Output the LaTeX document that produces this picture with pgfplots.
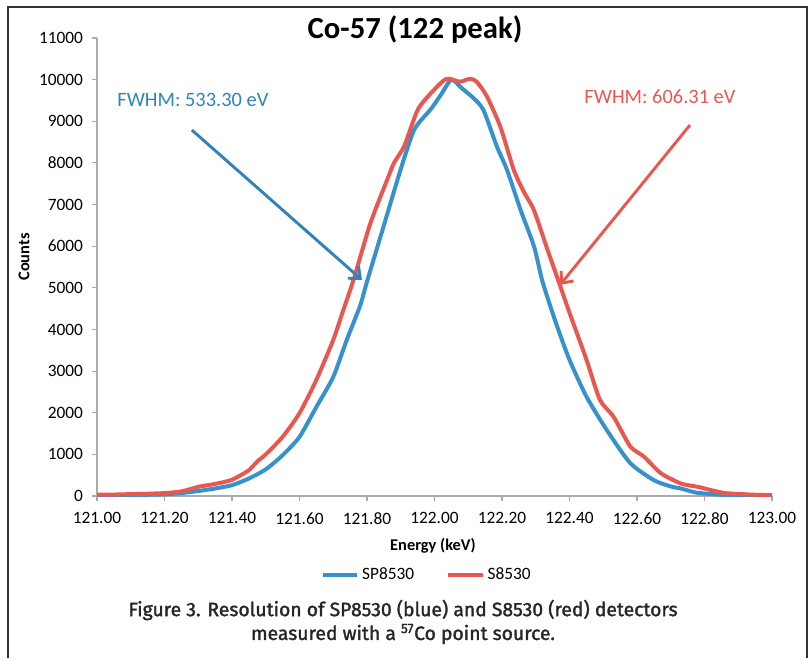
\documentclass[border=0pt]{standalone}
\usepackage{pgfplots}
\pgfplotsset{compat=1.18}
\usepackage{fontspec}
\setmainfont{Carlito}
\newfontfamily\capfont{Fira Sans}[FakeBold=1.6]
\usetikzlibrary{arrows.meta}
\definecolor{serblue}{RGB}{55,145,205}
\definecolor{serred}{RGB}{230,88,80}
\definecolor{axisgray}{RGB}{170,170,170}
\definecolor{framegray}{RGB}{50,50,50}

% SP8530 (blue)
\pgfplotstableread{
x y
121.00 10
121.05 15
121.10 20
121.15 30
121.20 40
121.25 70
121.30 120
121.35 180
121.40 260
121.45 420
121.50 640
121.55 980
121.60 1420
121.65 2140
121.70 2860
121.74 3750
121.78 4580
121.80 5150
121.85 6500
121.90 7850
121.94 8800
121.99 9300
122.02 9650
122.05 10000
122.08 9800
122.115 9560
122.145 9270
122.185 8390
122.215 7830
122.255 6870
122.295 5990
122.32 5150
122.36 4150
122.40 3270
122.45 2390
122.51 1590
122.58 790
122.65 380
122.70 230
122.73 180
122.77 90
122.80 60
122.85 30
122.90 15
122.95 8
123.00 5
}\blue

% S8530 (red)
\pgfplotstableread{
x y
121.00 30
121.05 35
121.10 45
121.15 55
121.20 70
121.25 110
121.30 220
121.35 290
121.40 390
121.45 620
121.475 830
121.50 1000
121.55 1420
121.60 1990
121.65 2790
121.70 3750
121.73 4470
121.76 5190
121.81 6550
121.86 7600
121.88 8000
121.91 8400
121.95 9270
121.99 9680
122.035 10020
122.075 9950
122.105 10020
122.125 9950
122.155 9600
122.195 8870
122.235 7830
122.265 7300
122.29 6950
122.305 6630
122.335 5910
122.37 5100
122.40 4400
122.45 3280
122.49 2310
122.53 1910
122.58 1190
122.62 950
122.67 550
122.73 300
122.78 220
122.82 140
122.86 70
122.90 50
122.95 30
123.00 20
}\red

\begin{document}
\begin{tikzpicture}
\begin{scope}[x=0.75pt,y=0.75pt]
\path[use as bounding box] (0,0) rectangle (812,658);
\draw[framegray, line width=1.5pt] (8,0) -- (8,651) -- (807,651) -- (807,0);
\end{scope}

\begin{axis}[
  at={(72.75pt,121.5pt)}, anchor=south west,
  scale only axis, width=506.25pt, height=343.5pt,
  xmin=121, xmax=123, ymin=0, ymax=11000,
  axis x line=bottom, axis y line=left,
  axis line style={-, draw=axisgray, line width=1pt},
  xtick={121,121.2,121.4,121.6,121.8,122,122.2,122.4,122.6,122.8,123},
  ytick={0,1000,2000,3000,4000,5000,6000,7000,8000,9000,10000,11000},
  scaled y ticks=false,
  tick align=outside, major tick length=4pt,
  tick style={axisgray, line width=0.8pt},
  /pgf/number format/assume math mode=true,
  /pgf/number format/.cd, fixed, 1000 sep={}, /pgfplots/.cd,
  xticklabel style={yshift=-5pt, /pgf/number format/.cd, fixed, fixed zerofill, precision=2},
  yticklabel style={xshift=-3pt},
  ticklabel style={font=\fontsize{13}{13}\selectfont},
  legend style={at={(0.489,-0.172)}, anchor=center, draw=none,
    font=\fontsize{13}{13}\selectfont, legend columns=2,
    /tikz/every even column/.append style={column sep=22pt}},
  legend image code/.code={\draw[#1, line width=3pt] (0,0) -- (26pt,0);},
]
\addplot[serblue, line width=3pt, line join=round, smooth, tension=0.4] table[x=x, y=y] {\blue};
\addlegendentry{SP8530}
\addplot[serred, line width=3pt, line join=round, smooth, tension=0.4] table[x=x, y=y] {\red};
\addlegendentry{S8530}

\draw[serblue!90!black, line width=2.2pt, -{Straight Barb[length=7pt,width=12pt]}]
  (axis cs:121.281,8790) -- (axis cs:121.785,5190);
\draw[serred, line width=2.2pt, -{Straight Barb[length=7pt,width=12pt]}]
  (axis cs:122.757,8910) -- (axis cs:122.372,5070);
\node[serblue!90!black, font=\fontsize{15.3}{15.3}\selectfont] at (axis cs:121.284,9510) {FWHM: 533.30 eV};
\node[serred, font=\fontsize{15.3}{15.3}\selectfont] at (axis cs:122.668,9580) {FWHM: 606.31 eV};
\end{axis}

\begin{scope}[x=0.75pt,y=0.75pt]
\node[font=\fontsize{23}{23}\selectfont\bfseries] at (415,628) {Co-57 (122 peak)};
\node[font=\fontsize{12.3}{12.3}\selectfont\bfseries] at (433,112) {Energy (keV)};
\node[font=\fontsize{12.3}{12.3}\selectfont\bfseries, rotate=90] at (24,401) {Counts};
\node[font=\capfont\fontsize{14.5}{14.5}\selectfont, text=black!85] at (403,48)
  {Figure 3. Resolution of SP8530 (blue) and S8530 (red) detectors};
\node[font=\capfont\fontsize{14.5}{14.5}\selectfont, text=black!85] at (403,24)
  {measured with a \textsuperscript{57}Co point source.};
\end{scope}
\end{tikzpicture}
\end{document}
